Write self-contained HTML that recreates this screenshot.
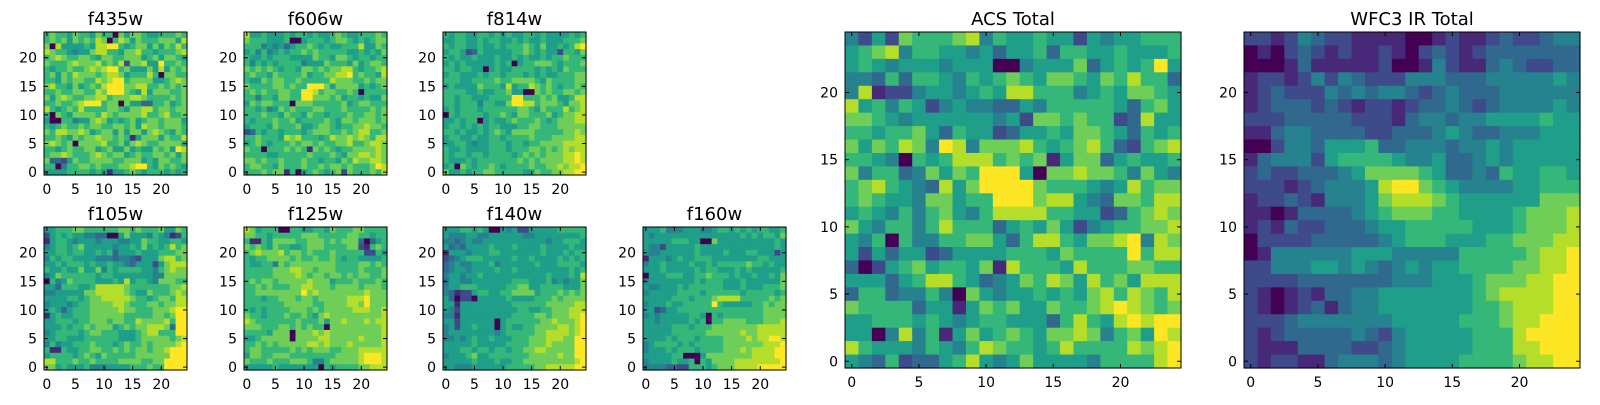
<!DOCTYPE html>
<html><head><meta charset="utf-8"><style>
html,body{margin:0;padding:0;background:#fff;}
svg text{font-family:"DejaVu Sans","Liberation Sans",sans-serif;fill:#000;}
</style></head><body>
<svg id="fig" xmlns="http://www.w3.org/2000/svg" width="1600" height="400" viewBox="0 0 1600 400"></svg>
<script>
// Heatmap data: each string is one image row, from y=24 (top) down to y=0; digits are intensity levels 0-9.
const xTicks = [0, 5, 10, 15, 20];
const yTicks = [0, 5, 10, 15, 20];
const panelTitles = ["f435w","f606w","f814w","f105w","f125w","f140w","f160w","ACS Total","WFC3 IR Total"];
const f435w = ["6766576657660757765566676","6767576768706875766677758","7085555658899656775757686","8766545578866577866566678","6787667765776677756757765","7666787778676827785596676","6566766787899675557585767","6757687776788756668607766","6657677668789967777556787","7866575676899977886676767","6676677668799976585777667","7578766778867778876666767","6676678999677075533667567","8656768666677657788677677","6076577776876777786678667","5006645578756567567767775","6567667677667767587767776","7688778756775757757876576","6676576778776761577757668","7876707777866757876677775","6656766775675575655767598","6778766678767756766776757","7332576677776677756577667","6604667767666778996576765","5555666656515567656665656"];
const f606w = ["8556555656656556765566676","7666555600566656776565677","6664545356676565566685576","5646456566767666665565657","6556566655557665776566566","6465656666455576665756776","7676765665776767788656678","6766576666756677889676658","6557677667666668777667677","7666677676699975777756567","6767667766998677667606666","6646657766997776756656557","5767766607776666675677666","6656457676667766676666767","6667665766576656667667767","6566676675666676577677767","5666576667556776566778776","2365665666567776676788667","6676665878666568778787688","5676566676776766778667887","7660666767617676566777787","6666556666676667657788787","7767667666766566576877887","6776657666766767767666798","6667677160567656727666768"];
const f814w = ["6566556656565566565555656","5566556566556565565556667","6566556556566676575565689","5665236555556676565526657","6565565556556565565667666","5656555556560566777656667","6656655056556666565657666","5665556566566656565566677","6665566667667777657666677","5655557666585668767656676","6666556556675500767667767","6656655566669966676755688","6656664665579988677765778","5656665666666776576668678","0656666566765776667567788","5565660565567666765677788","5665656566555667766677777","6656556567657777666667787","5665565566566667666777788","5566545566656656677778888","6556555566656667767678788","6566566566665676767778898","6555656666666767677778898","5607656676566667667787889","7556566776666655766778899"];
const f105w = ["5566677666666776766675576","2565655443300575554654126","1566545554555445576655665","4566567555554556575656867","5566566556563555655566677","4656655554443443255578867","5565666565565543555257888","6556557557465666655467877","4576666665665555555447777","0645766665556585665477766","5536665568888876666666778","4455555778888876557666787","5555665677888887665677688","4555456677778876667767788","5653566677777877666777899","1565566677777766666776799","5566656677767766877778699","5556566767775676778887399","4566665677666555678866699","5566555666666555677777678","4645566676665676676777789","6116556677667676776778999","5666656765766666777777999","8866676676666777766779999","7756555644455556667669999"];
const f125w = ["8756660066556657666776666","7766566666777666667766566","6116577776677767677730356","7676576655677766667721676","6787778677676667666662265","6566777767667667656655556","6556647677777777666677676","6666677788776777666676667","6666677778767767767677667","6767767777787775666766676","6676766677887776777767776","6677777777978777777778777","6665667776776777778889777","6666666777776677778879777","6565666677767677777888778","7665666766765787777777778","8766666667666757787778788","7776667767676607777777778","6666577707778787777777778","5567777707777887777787778","6676767777788787778777778","6776666676767776677788888","5776677766666666777789998","7666766677764467777789998","5555565555555065666677888"];
const f140w = ["5556656500545225555566666","5444554455555544555555556","4434544555555555554556665","5343555565556555565555655","1555455566555555565556566","2345666555556556555565656","3454455564555555655566665","3455455556556555555555656","4554556555555555556555658","3554455555556665556454557","4556665555566775566665557","4312256655667777566676767","5302205555565555666767777","5515555555556666667777788","5425555555555665566777888","4415555555556666776777889","5525555550566666677877789","4525565550565566777788789","4555555554566666778888789","4454565565556667778887799","5555565555566667778777799","5556656656656677887777799","4555675566666667777787799","5555565556556677777777789","5544455555566666778888899"];
const f160w = ["5556444555445665656566556","5455555555555555565656657","5555566655007555555555565","5442555556555555555555565","5445555556555565556655525","1555456556665555555566555","4556555565565666667665655","5556555556566555656555556","0555666556676665655655657","4555555556566655565555557","5445556566666655565556667","4555556666566666656666656","5555566656667888866666767","4555655666669655555667677","5523556666666666666667777","4545555566506566666667777","5545555565606677776667778","5555566656667777777788888","5555566666677777787788888","5555656665666677778788998","4566665656666677777778889","4555656665666677787888899","5555566000577777777888899","4555565560657777888888889","4444332266656777888899999"];
const acsTotal = ["4252766678465565525455666","5678466554535563665565556","5654555455500455573565695","4436366546567657765768663","4812245545658866645657765","8564652454433546666653675","7765455555545277676623855","6656675365523556577653656","7576874984777865678632678","6654065688867671577356556","7466347576999507787764754","6786543857999976665458677","6765547756699978854377688","5654646754688886655236787","7546646866635657524566778","5460644667753688657789487","5253552355556665766669688","3025675665718666586667766","5553568865345768758675888","3663446407545565657868768","7666635515767557667898767","5566656545665553686589899","5504846157567657787467598","8655546546876656866668789","5436233568545755554666689"];
const wfc3Total = ["2212432211110012112322344","0102321211210232123333333","0001311111200142113432233","1221242432224443334444454","1232224343443234333444444","1233323212212334323444454","2223333322213443445555655","1134433332233345433444555","0024435556334443445455555","1344425666654453345455555","2322333457777653343655665","2221234445899765444455666","1223214445788876555555777","1101333345677766555567778","1213223334556666655567778","0222233333456665556677788","0144444455544444666667889","2244455454345455666677889","2222333333344455567778899","2101213344555555567888899","2101231344555555566788899","2223444444455555666788999","2123333343245555566689999","2111333322345555566688999","2122113444345555666678899"];

const NS = "http://www.w3.org/2000/svg";
const svg = document.getElementById("fig");
const viridis = ["#440154","#482878","#3e4a89","#31688e","#26828e","#1f9e89","#35b779","#6ece58","#b5de2b","#fde725"];
const N = 25;

function mk(tag, attrs, parent) {
  const e = document.createElementNS(NS, tag);
  for (const k in attrs) e.setAttribute(k, attrs[k]);
  (parent || svg).appendChild(e);
  return e;
}

function panel(name, title, rows, left, top, size, titleY) {
  const g = mk("g", {});
  
  
  const cs = size / N;
  const xs = v => left + (v + 0.5) * cs;
  const ys = v => top + size - (v + 0.5) * cs;
  for (let r = 0; r < N; r++) {
    const s = rows[r] || rows[rows.length - 1];
    const yv = N - 1 - r;
    for (let c = 0; c < N; c++) {
      const ch = s[c] !== undefined ? s[c] : s[s.length - 1];
      const v = Math.max(0, Math.min(9, parseInt(ch, 10) || 0));
      const cell = mk("rect", {x: (xs(c) - cs / 2).toFixed(2), y: (ys(yv) - cs / 2).toFixed(2), width: (cs + 0.6).toFixed(2), height: (cs + 0.6).toFixed(2), fill: viridis[v]}, g);
      
      
    }
  }
  const frame = mk("rect", {x: left, y: top, width: size, height: size, fill: "none", stroke: "#000", "stroke-width": 1}, g);
  
  
  const tl = 4;
  xTicks.forEach(t => {
    const x = xs(t);
    mk("line", {x1: x, x2: x, y1: top + size, y2: top + size - tl, stroke: "#000"}, g);
    mk("line", {x1: x, x2: x, y1: top, y2: top + tl, stroke: "#000"}, g);
    const lbl = mk("text", {x: x, y: top + size + 19, "text-anchor": "middle", "font-size": 14}, g);
    lbl.textContent = t;
    
    
  });
  yTicks.forEach(t => {
    const y = ys(t);
    mk("line", {x1: left, x2: left + tl, y1: y, y2: y, stroke: "#000"}, g);
    mk("line", {x1: left + size, x2: left + size - tl, y1: y, y2: y, stroke: "#000"}, g);
    const lbl = mk("text", {x: left - 7, y: y + 5, "text-anchor": "end", "font-size": 14}, g);
    lbl.textContent = t;
    
    
  });
  const tt = mk("text", {x: left + size / 2, y: titleY, "text-anchor": "middle", "font-size": 18}, g);
  tt.textContent = title;
  
  
}

panel("f435w", panelTitles[0], f435w, 44, 32, 143, 25);
panel("f606w", panelTitles[1], f606w, 244, 32, 143, 25);
panel("f814w", panelTitles[2], f814w, 443, 32, 143, 25);
panel("f105w", panelTitles[3], f105w, 44, 227, 143, 220);
panel("f125w", panelTitles[4], f125w, 244, 227, 143, 220);
panel("f140w", panelTitles[5], f140w, 443, 227, 143, 220);
panel("f160w", panelTitles[6], f160w, 643, 227, 143, 220);
panel("acs-total", panelTitles[7], acsTotal, 845, 32, 336, 25);
panel("wfc3-ir-total", panelTitles[8], wfc3Total, 1244, 32, 336, 25);
</script>
</body></html>
